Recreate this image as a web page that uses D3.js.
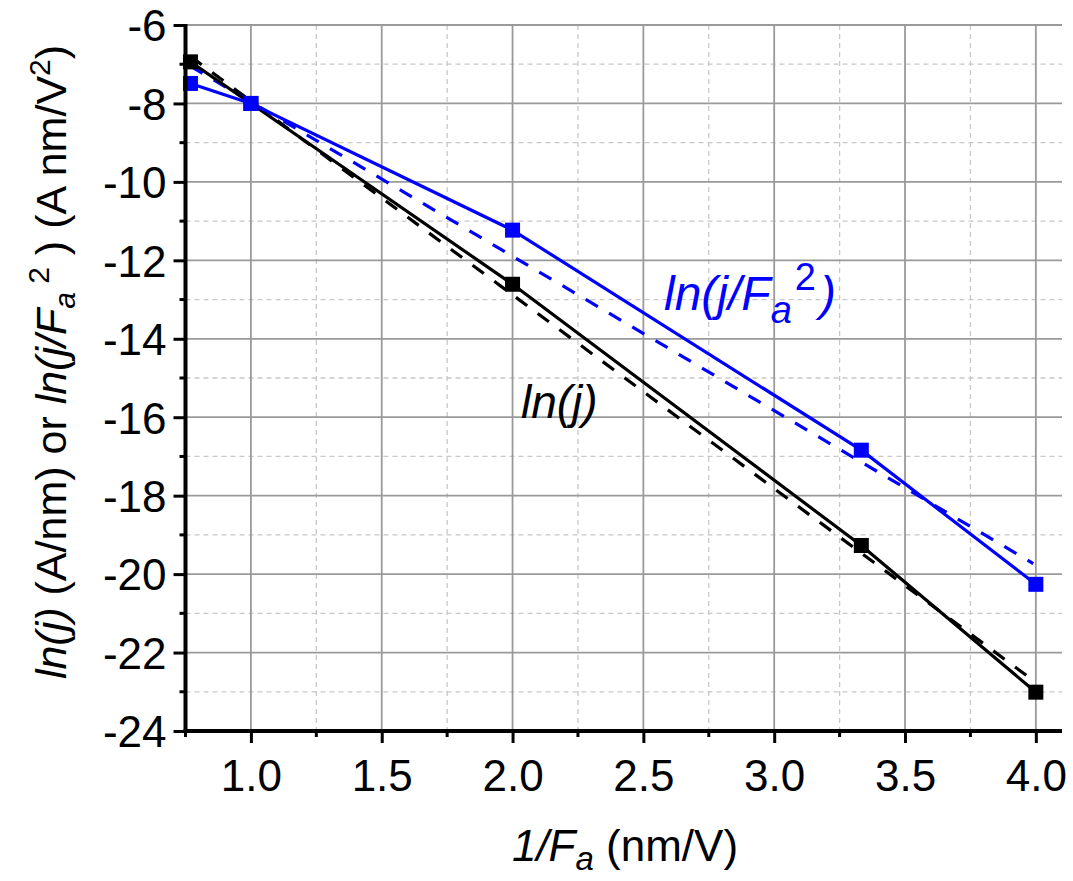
<!DOCTYPE html>
<html><head><meta charset="utf-8">
<script src="https://cdn.jsdelivr.net/npm/d3@7"></script>
<style>
html,body{margin:0;padding:0;background:#fff;}
svg{display:block;font-family:"Liberation Sans",Arial,sans-serif;}
</style></head>
<body>
<svg id="chart" width="1073" height="881"></svg>
<script>
// ---- data ----
const xVals = [0.769, 1.0, 2.0, 3.333, 4.0];          // 1/Fa (nm/V)
const lnJ = [-6.94, -8.0, -12.61, -19.27, -23.01];     // ln(j)
const lnJF2 = [-7.49, -8.0, -11.23, -16.84, -20.26];   // ln(j/Fa^2)
const fitX = [0.769, 3.99];
const fitLnJ = [-6.80, -22.71];
const fitLnJF2 = [-7.05, -19.73];
const xTicks = [1.0, 1.5, 2.0, 2.5, 3.0, 3.5, 4.0];
const xMinor = [0.75, 1.25, 1.75, 2.25, 2.75, 3.25, 3.75];
const yTicks = [-6, -8, -10, -12, -14, -16, -18, -20, -22, -24];
const yMinor = [-7, -9, -11, -13, -15, -17, -19, -21, -23];

const svg = d3.select("#chart");
const x = d3.scaleLinear().domain([0.75, 4.1]).range([185.5, 1062]);
const y = d3.scaleLinear().domain([-24, -6]).range([731, 25]);
const FS = 44;

// grid
const grid = svg.append("g");
grid.selectAll(".vminor").data(xMinor).join("line")
  .attr("x1", d => x(d)).attr("x2", d => x(d)).attr("y1", y(-6)).attr("y2", y(-24))
  .attr("stroke", "#c8c8c8").attr("stroke-width", 1.3).attr("stroke-dasharray", "5,4");
grid.selectAll(".hminor").data(yMinor).join("line")
  .attr("x1", x(0.75)).attr("x2", x(4.1)).attr("y1", d => y(d)).attr("y2", d => y(d))
  .attr("stroke", "#c8c8c8").attr("stroke-width", 1.3).attr("stroke-dasharray", "5,4");
grid.selectAll(".vmajor").data(xTicks).join("line")
  .attr("x1", d => x(d)).attr("x2", d => x(d)).attr("y1", y(-6)).attr("y2", y(-24))
  .attr("stroke", "#9a9a9a").attr("stroke-width", 1.8);
grid.selectAll(".hmajor").data(yTicks).join("line")
  .attr("x1", x(0.75)).attr("x2", x(4.1)).attr("y1", d => y(d)).attr("y2", d => y(d))
  .attr("stroke", "#9a9a9a").attr("stroke-width", 1.8);

// fits (dashed)
const pts = (xs, ys) => xs.map((v, i) => [v, ys[i]]);
const line = d3.line().x(d => x(d[0])).y(d => y(d[1]));
svg.append("path").attr("d", line(pts(fitX, fitLnJ))).attr("fill", "none")
  .attr("stroke", "#000").attr("stroke-width", 3.2).attr("stroke-dasharray", "14,13");
svg.append("path").attr("d", line(pts(fitX, fitLnJF2))).attr("fill", "none")
  .attr("stroke", "#0000ff").attr("stroke-width", 3.2).attr("stroke-dasharray", "14,13");

// data lines
svg.append("path").attr("d", line(pts(xVals, lnJ))).attr("fill", "none")
  .attr("stroke", "#000").attr("stroke-width", 3.2);
svg.append("path").attr("d", line(pts(xVals, lnJF2))).attr("fill", "none")
  .attr("stroke", "#0000ff").attr("stroke-width", 3.2);

// markers
const S = 15;
svg.selectAll(".mj").data(pts(xVals, lnJ)).join("rect")
  .attr("x", d => x(d[0]) - S/2).attr("y", d => y(d[1]) - S/2).attr("width", S).attr("height", S)
  .attr("fill", "#000");
svg.selectAll(".mjf").data(pts(xVals, lnJF2)).join("rect")
  .attr("x", d => x(d[0]) - S/2).attr("y", d => y(d[1]) - S/2).attr("width", S).attr("height", S)
  .attr("fill", "#0000ff");

// axes
const xAxis = d3.axisBottom(x).tickValues(xTicks).tickFormat(d3.format(".1f")).tickSize(12).tickSizeOuter(0);
const gx = svg.append("g").attr("transform", `translate(0,${y(-24)})`).call(xAxis);
gx.select(".domain").attr("stroke-width", 4).attr("d", `M${x(0.75)-2},0H${x(4.1)}`);
gx.selectAll(".tick line").attr("stroke-width", 3);
gx.selectAll(".tick text").attr("font-size", FS).attr("font-family", "Liberation Sans, Arial").attr("fill", "#000").attr("dy", null).attr("y", 0)
  .attr("transform", "translate(0,60)");
gx.selectAll(".minor").data(xMinor).join("line").attr("class", "minor")
  .attr("x1", d => x(d)).attr("x2", d => x(d)).attr("y1", 0).attr("y2", 6)
  .attr("stroke", "#000").attr("stroke-width", 3);

const yAxis = d3.axisLeft(y).tickValues(yTicks).tickFormat(d3.format("d")).tickSize(12).tickSizeOuter(0);
const gy = svg.append("g").attr("transform", `translate(${x(0.75)},0)`).call(yAxis);
gy.select(".domain").attr("stroke-width", 4).attr("d", `M0,${y(-6)-1}V${y(-24)+2}`);
gy.selectAll(".tick line").attr("stroke-width", 3);
gy.selectAll(".tick text").attr("font-size", FS).attr("font-family", "Liberation Sans, Arial").attr("fill", "#000")
  .attr("x", -19).attr("dy", "0.36em").text(d => String(d).replace("\u2212", "-"));
gy.selectAll(".minor").data(yMinor).join("line").attr("class", "minor")
  .attr("x1", 0).attr("x2", -6).attr("y1", d => y(d)).attr("y2", d => y(d))
  .attr("stroke", "#000").attr("stroke-width", 3);

// x title
const xt = svg.append("text").attr("x", 625).attr("y", 861).attr("text-anchor", "middle").attr("font-size", FS);
xt.append("tspan").attr("font-style", "italic").text("1/F");
xt.append("tspan").attr("font-style", "italic").attr("font-size", 33).attr("dy", 9).text("a");
xt.append("tspan").attr("dy", -9).text(" (nm/V)");

// y title
const yt = svg.append("text").attr("transform", "translate(66,362) rotate(-90)")
  .attr("text-anchor", "middle").attr("font-size", 43);
yt.append("tspan").attr("font-style", "italic").text("ln(j)");
yt.append("tspan").text(" (A/nm) or ");
yt.append("tspan").attr("font-style", "italic").text("ln(j/F");
yt.append("tspan").attr("font-style", "italic").attr("font-size", 30).attr("dy", 9).text("a");
yt.append("tspan").attr("font-size", 30).attr("dy", -26).text(" 2");
yt.append("tspan").attr("dy", 17).text(" ) (A nm/V");
yt.append("tspan").attr("font-size", 30).attr("dy", -16).text("2");
yt.append("tspan").attr("dy", 16).text(")");

// series labels
svg.append("text").attr("x", 521).attr("y", 418).attr("font-size", 46)
  .attr("font-style", "italic").attr("fill", "#000").text("ln(j)");
const l2 = svg.append("text").attr("x", 664).attr("y", 310).attr("font-size", 48)
  .attr("font-style", "italic").attr("fill", "#0000ff");
l2.append("tspan").text("ln(j/F");
l2.append("tspan").attr("font-size", 38).attr("dy", 13).text("a");
l2.append("tspan").attr("font-size", 38).attr("dy", -33).attr("dx", 3).attr("font-style", "normal").text("2");
l2.append("tspan").attr("dy", 20).attr("dx", 4).text(")");
</script>
</body></html>
